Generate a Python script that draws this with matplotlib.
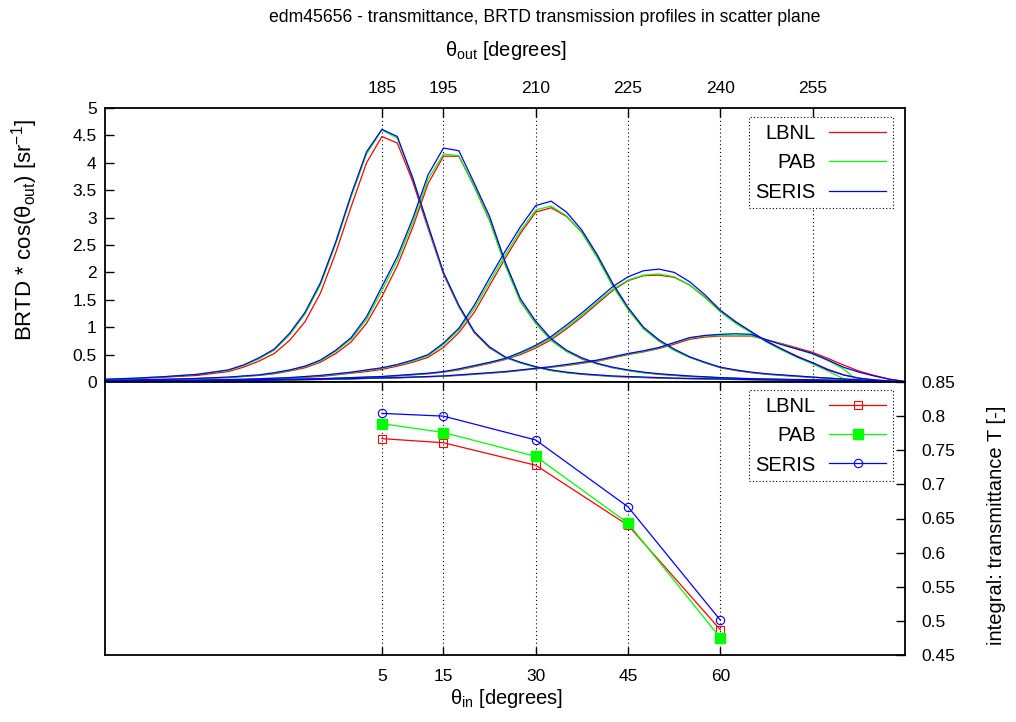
import numpy as np
import matplotlib
matplotlib.use('Agg')
import matplotlib.pyplot as plt

plt.rcParams['font.family'] = ['Liberation Sans', 'DejaVu Sans']
plt.rcParams['mathtext.fontset'] = 'custom'
plt.rcParams['mathtext.rm'] = 'Liberation Sans'
plt.rcParams['mathtext.it'] = 'Liberation Sans:italic'
plt.rcParams['font.size'] = 12

# outgoing angle grid shared by all profiles
theta_out = [140, 145, 150, 155, 160,
             162.5, 165, 167.5, 170, 172.5, 175, 177.5, 180,
             182.5, 185, 187.5, 190, 192.5, 195, 197.5, 200,
             202.5, 205, 207.5, 210, 212.5, 215, 217.5, 220,
             222.5, 225, 227.5, 230, 232.5, 235, 237.5, 240,
             242.5, 245, 247.5, 250, 252.5, 255, 257.5, 260,
             262.5, 265, 267.5, 270]

# BRTD * cos(theta_out) profiles, incidence 5 deg
lbnl_05 = [0.04, 0.06, 0.09, 0.12, 0.19,
           0.27, 0.38, 0.52, 0.76, 1.10, 1.62, 2.36, 3.20,
           4.00, 4.48, 4.36, 3.66, 2.80, 1.97, 1.37, 0.90,
           0.62, 0.45, 0.35, 0.27, 0.21, 0.17, 0.14, 0.12,
           0.10, 0.09, 0.08, 0.07, 0.065, 0.06, 0.055, 0.05,
           0.045, 0.04, 0.035, 0.03, 0.028, 0.025, 0.02, 0.018,
           0.012, 0.008, 0.004, 0.0]
pab_05 = [0.05, 0.07, 0.10, 0.14, 0.21,
          0.30, 0.42, 0.58, 0.86, 1.24, 1.77, 2.52, 3.38,
          4.16, 4.60, 4.45, 3.74, 2.84, 1.99, 1.38, 0.91,
          0.63, 0.45, 0.35, 0.27, 0.21, 0.17, 0.145, 0.125,
          0.105, 0.095, 0.085, 0.075, 0.068, 0.062, 0.057, 0.052,
          0.047, 0.043, 0.038, 0.034, 0.03, 0.028, 0.024, 0.019,
          0.014, 0.01, 0.005, 0.0]
seris_05 = [0.05, 0.07, 0.10, 0.14, 0.22,
            0.31, 0.44, 0.60, 0.89, 1.27, 1.81, 2.56, 3.42,
            4.20, 4.61, 4.48, 3.72, 2.86, 2.00, 1.40, 0.92,
            0.64, 0.46, 0.36, 0.28, 0.22, 0.18, 0.15, 0.13,
            0.11, 0.10, 0.09, 0.08, 0.07, 0.065, 0.06, 0.055,
            0.05, 0.045, 0.04, 0.035, 0.03, 0.03, 0.025, 0.02,
            0.015, 0.01, 0.005, 0.0]

# incidence 15 deg
lbnl_15 = [0.025, 0.035, 0.045, 0.06, 0.08,
           0.10, 0.12, 0.15, 0.20, 0.26, 0.36, 0.52, 0.73,
           1.07, 1.56, 2.12, 2.82, 3.62, 4.12, 4.12, 3.57,
           2.95, 2.16, 1.47, 1.07, 0.76, 0.56, 0.42, 0.33,
           0.26, 0.21, 0.17, 0.14, 0.12, 0.10, 0.09, 0.075,
           0.065, 0.055, 0.05, 0.045, 0.04, 0.035, 0.03, 0.025,
           0.02, 0.012, 0.008, 0.0]
pab_15 = [0.03, 0.04, 0.05, 0.065, 0.085,
          0.105, 0.125, 0.16, 0.21, 0.28, 0.38, 0.56, 0.78,
          1.14, 1.67, 2.22, 2.90, 3.70, 4.16, 4.13, 3.56,
          2.94, 2.14, 1.47, 1.07, 0.76, 0.56, 0.43, 0.33,
          0.26, 0.21, 0.17, 0.145, 0.125, 0.105, 0.09, 0.078,
          0.068, 0.058, 0.052, 0.047, 0.042, 0.038, 0.033, 0.028,
          0.02, 0.014, 0.008, 0.0]
seris_15 = [0.03, 0.04, 0.05, 0.065, 0.09,
            0.11, 0.13, 0.17, 0.22, 0.29, 0.40, 0.58, 0.81,
            1.19, 1.74, 2.29, 2.98, 3.78, 4.27, 4.22, 3.63,
            3.02, 2.20, 1.52, 1.11, 0.79, 0.58, 0.44, 0.34,
            0.27, 0.22, 0.18, 0.15, 0.13, 0.11, 0.095, 0.08,
            0.07, 0.06, 0.055, 0.05, 0.045, 0.04, 0.035, 0.03,
            0.02, 0.015, 0.01, 0.0]

# incidence 30 deg
lbnl_30 = [0.015, 0.02, 0.025, 0.03, 0.04,
           0.045, 0.05, 0.06, 0.07, 0.085, 0.10, 0.13, 0.16,
           0.19, 0.23, 0.29, 0.36, 0.45, 0.63, 0.90, 1.27,
           1.76, 2.25, 2.71, 3.10, 3.18, 3.02, 2.73, 2.28,
           1.77, 1.33, 0.98, 0.75, 0.58, 0.45, 0.35, 0.26,
           0.21, 0.17, 0.14, 0.12, 0.10, 0.085, 0.07, 0.05,
           0.035, 0.02, 0.01, 0.0]
pab_30 = [0.02, 0.025, 0.03, 0.035, 0.045,
          0.05, 0.058, 0.068, 0.078, 0.095, 0.115, 0.14, 0.17,
          0.21, 0.25, 0.31, 0.38, 0.48, 0.68, 0.95, 1.34,
          1.83, 2.31, 2.76, 3.14, 3.21, 3.03, 2.72, 2.27,
          1.75, 1.32, 0.97, 0.75, 0.58, 0.45, 0.35, 0.265,
          0.215, 0.175, 0.145, 0.125, 0.105, 0.088, 0.07, 0.055,
          0.04, 0.025, 0.01, 0.0]
seris_30 = [0.02, 0.025, 0.03, 0.035, 0.045,
            0.05, 0.06, 0.07, 0.08, 0.10, 0.12, 0.15, 0.18,
            0.22, 0.26, 0.32, 0.40, 0.50, 0.71, 0.98, 1.40,
            1.90, 2.38, 2.83, 3.22, 3.30, 3.10, 2.77, 2.32,
            1.80, 1.36, 1.00, 0.77, 0.60, 0.46, 0.36, 0.27,
            0.22, 0.18, 0.15, 0.13, 0.11, 0.09, 0.07, 0.055,
            0.04, 0.025, 0.01, 0.0]

# incidence 45 deg
lbnl_45 = [0.008, 0.012, 0.016, 0.02, 0.025,
           0.03, 0.035, 0.04, 0.045, 0.05, 0.055, 0.065, 0.075,
           0.085, 0.095, 0.11, 0.13, 0.15, 0.18, 0.22, 0.28,
           0.34, 0.41, 0.50, 0.62, 0.77, 0.97, 1.19, 1.43,
           1.67, 1.85, 1.94, 1.95, 1.91, 1.77, 1.55, 1.29,
           1.08, 0.91, 0.75, 0.60, 0.47, 0.35, 0.23, 0.13,
           0.07, 0.035, 0.015, 0.0]
pab_45 = [0.01, 0.014, 0.018, 0.023, 0.028,
          0.033, 0.038, 0.043, 0.048, 0.053, 0.058, 0.068, 0.078,
          0.088, 0.098, 0.115, 0.135, 0.155, 0.185, 0.23, 0.29,
          0.35, 0.42, 0.52, 0.65, 0.80, 1.00, 1.22, 1.46,
          1.69, 1.86, 1.95, 1.97, 1.92, 1.77, 1.54, 1.28,
          1.07, 0.90, 0.73, 0.58, 0.45, 0.33, 0.20, 0.06,
          0.0, 0.0, 0.0, 0.0]
seris_45 = [0.01, 0.015, 0.02, 0.025, 0.03,
            0.035, 0.04, 0.045, 0.05, 0.055, 0.06, 0.07, 0.08,
            0.09, 0.10, 0.12, 0.14, 0.16, 0.19, 0.24, 0.30,
            0.36, 0.43, 0.54, 0.67, 0.83, 1.04, 1.26, 1.50,
            1.74, 1.92, 2.03, 2.06, 2.00, 1.83, 1.59, 1.31,
            1.10, 0.92, 0.74, 0.60, 0.46, 0.35, 0.22, 0.13,
            0.07, 0.04, 0.02, 0.0]

# incidence 60 deg
lbnl_60 = [0.004, 0.006, 0.008, 0.012, 0.016,
           0.02, 0.025, 0.03, 0.035, 0.04, 0.045, 0.05, 0.055,
           0.065, 0.07, 0.075, 0.085, 0.095, 0.105, 0.12, 0.14,
           0.16, 0.18, 0.21, 0.24, 0.27, 0.30, 0.34, 0.38,
           0.44, 0.50, 0.55, 0.61, 0.69, 0.78, 0.82, 0.84,
           0.84, 0.84, 0.77, 0.70, 0.62, 0.54, 0.43, 0.31,
           0.20, 0.12, 0.05, 0.01]
pab_60 = [0.005, 0.007, 0.009, 0.013, 0.018,
          0.022, 0.027, 0.032, 0.037, 0.042, 0.047, 0.052, 0.057,
          0.067, 0.072, 0.078, 0.088, 0.098, 0.108, 0.125, 0.145,
          0.165, 0.185, 0.215, 0.245, 0.275, 0.31, 0.35, 0.39,
          0.45, 0.51, 0.56, 0.62, 0.71, 0.80, 0.84, 0.85,
          0.85, 0.85, 0.77, 0.69, 0.60, 0.51, 0.39, 0.24,
          0.0, 0.0, 0.0, 0.0]
seris_60 = [0.005, 0.008, 0.01, 0.015, 0.02,
            0.025, 0.03, 0.035, 0.04, 0.045, 0.05, 0.055, 0.06,
            0.07, 0.075, 0.08, 0.09, 0.10, 0.11, 0.13, 0.15,
            0.17, 0.19, 0.22, 0.25, 0.28, 0.32, 0.36, 0.40,
            0.46, 0.52, 0.57, 0.63, 0.72, 0.81, 0.85, 0.87,
            0.88, 0.87, 0.77, 0.68, 0.60, 0.52, 0.40, 0.27,
            0.18, 0.11, 0.05, 0.01]

# integral transmittance per incidence angle
theta_in = [5, 15, 30, 45, 60]
T_lbnl = [0.767, 0.761, 0.728, 0.640, 0.487]
T_pab = [0.789, 0.776, 0.741, 0.643, 0.475]
T_seris = [0.804, 0.800, 0.765, 0.667, 0.501]

out_ticks = [185, 195, 210, 225, 240, 255]
out_labels = ['185', '195', '210', '225', '240', '255']
brtd_ticks = [0, 0.5, 1, 1.5, 2, 2.5, 3, 3.5, 4, 4.5, 5]
brtd_labels = ['0', '0.5', '1', '1.5', '2', '2.5', '3', '3.5', '4', '4.5', '5']
T_ticks = [0.45, 0.5, 0.55, 0.6, 0.65, 0.7, 0.75, 0.8, 0.85]
T_labels = ['0.45', '0.5', '0.55', '0.6', '0.65', '0.7', '0.75', '0.8', '0.85']
in_labels = ['5', '15', '30', '45', '60']

red, green, blue = '#ff0000', '#00ff00', '#0000ff'
W, H = 1016, 722

fig = plt.figure(figsize=(W / 100, H / 100), dpi=100)
ax1 = fig.add_axes([105 / W, 1 - 382 / H, 800 / W, 274 / H])
ax2 = fig.add_axes([105 / W, 1 - 655 / H, 800 / W, 273 / H])

grid_style = dict(color='black', linestyle=(0, (1, 2.5)), linewidth=0.8)
leg_style = dict(loc='upper right', borderaxespad=0, markerfirst=False, fancybox=False,
                 framealpha=1, fontsize=14.5, handlelength=2.85, handletextpad=0.65,
                 labelspacing=0.52, borderpad=0.33)

# ---- top panel: profiles
lbnl = [lbnl_05, lbnl_15, lbnl_30, lbnl_45, lbnl_60]
pab = [pab_05, pab_15, pab_30, pab_45, pab_60]
seris = [seris_05, seris_15, seris_30, seris_45, seris_60]
for group, col, name in [(lbnl, red, 'LBNL'), (pab, green, 'PAB'), (seris, blue, 'SERIS')]:
    for i, vals in enumerate(group):
        ax1.plot(theta_out, vals, color=col, lw=0.9, label=name if i == 0 else None)

ax1.set_xlim(140, 270)
ax1.set_ylim(0, 5)
ax1.set_xticks(out_ticks)
ax1.set_xticklabels(out_labels)
ax1.set_yticks(brtd_ticks)
ax1.set_yticklabels(brtd_labels)
ax1.tick_params(axis='x', direction='in', length=6.5, width=1, top=True, bottom=False,
                labeltop=True, labelbottom=False, pad=9, labelsize=12.5)
ax1.tick_params(axis='y', direction='in', length=6.5, width=1, left=True, right=False,
                pad=6, labelsize=12.5)
ax1.grid(axis='x', **grid_style)
leg1 = ax1.legend(bbox_to_anchor=(0.985, 0.967), **leg_style)
leg1.get_frame().set_edgecolor('black')
leg1.get_frame().set_linestyle((0, (1, 2)))
leg1.get_frame().set_linewidth(0.8)

# ---- bottom panel: integral transmittance
ax2.plot(theta_in, T_lbnl, color=red, lw=0.9, marker='s', ms=6, mfc='none', mec=red,
         mew=0.8, label='LBNL')
ax2.plot(theta_in, T_pab, color=green, lw=0.9, marker='s', ms=6.5, mfc=green, mec=green,
         label='PAB')
ax2.plot(theta_in, T_seris, color=blue, lw=0.9, marker='o', ms=6, mfc='none', mec=blue,
         mew=0.8, label='SERIS')
ax2.set_xlim(-40, 90)
ax2.set_ylim(0.45, 0.85)
ax2.set_xticks(theta_in)
ax2.set_xticklabels(in_labels)
ax2.yaxis.tick_right()
ax2.set_yticks(T_ticks)
ax2.set_yticklabels(T_labels)
ax2.tick_params(axis='x', direction='in', length=6, width=1, top=True, bottom=True,
                pad=10, labelsize=12.5)
ax2.tick_params(axis='y', direction='in', length=6.5, width=1, left=False, right=True,
                pad=12, labelsize=12.5)
ax2.grid(axis='x', **grid_style)
leg2 = ax2.legend(bbox_to_anchor=(0.985, 0.971), **leg_style)
leg2.get_frame().set_edgecolor('black')
leg2.get_frame().set_linestyle((0, (1, 2)))
leg2.get_frame().set_linewidth(0.8)

for ax in (ax1, ax2):
    for sp in ax.spines.values():
        sp.set_linewidth(1.3)

# ---- texts
fig.text(545 / W, 1 - 17 / H, 'edm45656 - transmittance, BRTD transmission profiles in scatter plane',
         ha='center', va='center', fontsize=12.7)
fig.text(506 / W, 1 - 50 / H, r'θ$_{\mathrm{out}}$ [degrees]', ha='center', va='center',
         fontsize=14.5)
fig.text(507 / W, 1 - 698 / H, r'θ$_{\mathrm{in}}$ [degrees]', ha='center', va='center',
         fontsize=14.5)
fig.text(25 / W, 1 - 230 / H, r'BRTD * cos(θ$_{\mathrm{out}}$) [sr$^{-1}$]', ha='center',
         va='center', rotation=90, fontsize=16)
fig.text(997 / W, 1 - 525 / H, 'integral: transmittance T [-]', ha='center', va='center',
         rotation=90, fontsize=14.5)

fig.savefig('out.png', dpi=100)
